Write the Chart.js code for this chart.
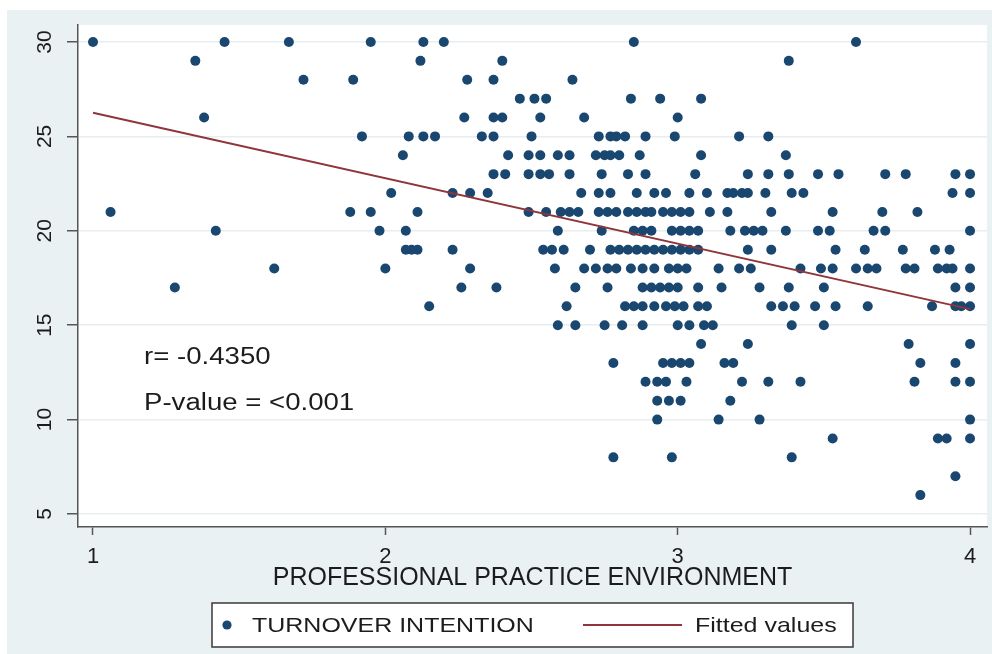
<!DOCTYPE html>
<html>
<head>
<meta charset="utf-8">
<script src="https://cdn.jsdelivr.net/npm/chart.js@4.4.0/dist/chart.umd.min.js"></script>
<style>
html,body{margin:0;padding:0;background:#fff;}
#wrap{position:relative;width:992px;height:654px;}
</style>
</head>
<body>
<div id="wrap"><canvas id="c" width="992" height="654"></canvas></div>
<script>
// Professional practice environment scores (x) at each turnover-intention level (y)
const x30 = [1.00, 1.45, 1.67, 1.95, 2.13, 2.20, 2.85, 3.61];
const x29 = [1.35, 2.12, 2.40, 3.38];
const x28 = [1.72, 1.89, 2.28, 2.37, 2.64];
const x27 = [2.46, 2.51, 2.55, 2.84, 2.94, 3.08];
const x26 = [1.38, 2.27, 2.37, 2.40, 2.53, 2.68, 3.00];
const x25 = [1.92, 2.08, 2.13, 2.17, 2.33, 2.37, 2.50, 2.73, 2.77, 2.79, 2.82, 2.89, 2.99, 3.21, 3.31];
const x24 = [2.06, 2.42, 2.49, 2.53, 2.59, 2.63, 2.72, 2.75, 2.77, 2.80, 2.87, 3.08, 3.37];
const x23 = [2.37, 2.41, 2.49, 2.53, 2.56, 2.63, 2.74, 2.83, 2.89, 3.06, 3.24, 3.31, 3.38, 3.48, 3.55, 3.71, 3.78, 3.95, 4.00];
const x22 = [2.02, 2.23, 2.29, 2.35, 2.67, 2.73, 2.77, 2.86, 2.92, 2.96, 3.04, 3.10, 3.17, 3.19, 3.22, 3.24, 3.30, 3.39, 3.43, 3.94, 4.00];
const x21 = [1.06, 1.88, 1.95, 2.11, 2.49, 2.55, 2.60, 2.63, 2.66, 2.73, 2.76, 2.79, 2.83, 2.86, 2.89, 2.91, 2.95, 2.98, 3.01, 3.04, 3.11, 3.17, 3.32, 3.53, 3.70, 3.82];
const x20 = [1.42, 1.98, 2.07, 2.59, 2.74, 2.85, 2.88, 2.91, 2.98, 3.01, 3.04, 3.07, 3.18, 3.23, 3.26, 3.29, 3.37, 3.48, 3.52, 3.67, 3.71, 4.00];
const x19 = [2.07, 2.09, 2.11, 2.23, 2.54, 2.57, 2.61, 2.70, 2.77, 2.80, 2.83, 2.86, 2.89, 2.92, 2.95, 2.98, 3.01, 3.04, 3.07, 3.24, 3.32, 3.54, 3.64, 3.77, 3.88, 3.93];
const x18 = [1.62, 2.00, 2.29, 2.58, 2.68, 2.72, 2.76, 2.79, 2.84, 2.88, 2.92, 2.97, 3.00, 3.03, 3.14, 3.21, 3.25, 3.42, 3.49, 3.53, 3.61, 3.65, 3.68, 3.78, 3.81, 3.89, 3.92, 3.94, 4.00];
const x17 = [1.28, 2.26, 2.38, 2.65, 2.76, 2.88, 2.91, 2.94, 2.97, 3.00, 3.07, 3.15, 3.28, 3.38, 3.50, 3.95, 4.00];
const x16 = [2.15, 2.62, 2.82, 2.85, 2.88, 2.92, 2.96, 2.99, 3.02, 3.07, 3.10, 3.32, 3.36, 3.40, 3.47, 3.54, 3.65, 3.87, 3.95, 3.97, 4.00];
const x15 = [2.59, 2.65, 2.75, 2.81, 2.88, 3.00, 3.04, 3.09, 3.12, 3.39, 3.50];
const x14 = [3.08, 3.24, 3.79, 4.00];
const x13 = [2.78, 2.95, 2.98, 3.01, 3.04, 3.16, 3.19, 3.83, 3.95];
const x12 = [2.89, 2.93, 2.96, 3.03, 3.22, 3.31, 3.42, 3.81, 3.95, 4.00];
const x11 = [2.93, 2.97, 3.01, 3.18];
const x10 = [2.93, 3.14, 3.28, 4.00];
const x9  = [3.53, 3.89, 3.92, 4.00];
const x8  = [2.78, 2.98, 3.39];
const x7  = [3.95];
const x6  = [3.83];

const turnoverLevels = [30,29,28,27,26,25,24,23,22,21,20,19,18,17,16,15,14,13,12,11,10,9,8,7,6];
const envRows = [x30,x29,x28,x27,x26,x25,x24,x23,x22,x21,x20,x19,x18,x17,x16,x15,x14,x13,x12,x11,x10,x9,x8,x7,x6];

const fittedX = [1, 4];
const fittedY = [26.25, 15.85];

const xTicks = [1, 2, 3, 4];
const yTicks = [5, 10, 15, 20, 25, 30];

const xTitle = 'PROFESSIONAL PRACTICE ENVIRONMENT';
const seriesNames = ['TURNOVER INTENTION', 'Fitted values'];
const statLines = ['r= -0.4350', 'P-value = <0.001'];

const NAVY = '#1a476f';
const MAROON = '#90353b';
const BG = '#eaf1f3';
const AXIS = '#555555';
const TEXT = '#1c1c1c';
const FONT = '"Liberation Sans", Arial, sans-serif';

const scatterPts = [];
turnoverLevels.forEach((lv, i) => envRows[i].forEach(xv => scatterPts.push({x: xv, y: lv})));
const fittedPts = fittedX.map((xv, i) => ({x: xv, y: fittedY[i]}));

function stretchedText(ctx, text, x, y, size, sx) {
  ctx.save();
  ctx.font = size + 'px ' + FONT;
  ctx.fillStyle = TEXT;
  ctx.textBaseline = 'middle';
  ctx.textAlign = 'left';
  ctx.translate(x, y);
  ctx.scale(sx, 1);
  ctx.fillText(text, 0, 0);
  ctx.restore();
}

const decor = {
  id: 'decor',
  beforeDraw(chart) {
    const ctx = chart.ctx, a = chart.chartArea;
    ctx.save();
    ctx.fillStyle = '#ffffff';
    ctx.fillRect(0, 0, chart.width, chart.height);
    ctx.fillStyle = BG;
    ctx.fillRect(7, 10, chart.width - 7, chart.height - 10);
    ctx.fillStyle = '#ffffff';
    ctx.fillRect(a.left, a.top, a.right - a.left, a.bottom - a.top);
    ctx.restore();
  },
  afterDraw(chart) {
    const ctx = chart.ctx;
    const ys = chart.scales.y;
    // rotated y tick labels
    ctx.save();
    ctx.font = '21px ' + FONT;
    ctx.fillStyle = TEXT;
    ctx.textAlign = 'center';
    ctx.textBaseline = 'middle';
    ys.ticks.forEach(t => {
      const py = ys.getPixelForValue(t.value);
      ctx.save();
      ctx.translate(45, py);
      ctx.rotate(-Math.PI / 2);
      ctx.fillText(String(t.value), 0, 0);
      ctx.restore();
    });
    ctx.restore();

    // statistics text
    stretchedText(ctx, statLines[0], 144, 358, 23, 1.2);
    stretchedText(ctx, statLines[1], 144, 404, 23, 1.2);

    // legend box
    ctx.save();
    ctx.fillStyle = '#ffffff';
    ctx.fillRect(212, 603, 641, 44);
    ctx.strokeStyle = '#3a3a3a';
    ctx.lineWidth = 1.5;
    ctx.strokeRect(212, 603, 641, 44);
    ctx.fillStyle = NAVY;
    ctx.beginPath();
    ctx.arc(227, 625, 4.6, 0, Math.PI * 2);
    ctx.fill();
    ctx.strokeStyle = MAROON;
    ctx.lineWidth = 1.8;
    ctx.beginPath();
    ctx.moveTo(583, 625);
    ctx.lineTo(682, 625);
    ctx.stroke();
    ctx.restore();
    stretchedText(ctx, seriesNames[0], 252, 626, 21, 1.19);
    stretchedText(ctx, seriesNames[1], 695, 626, 21, 1.19);
  }
};

new Chart(document.getElementById('c'), {
  type: 'scatter',
  data: {
    datasets: [
      {
        type: 'line',
        label: seriesNames[1],
        data: fittedPts,
        borderColor: MAROON,
        borderWidth: 2,
        pointRadius: 0,
        fill: false,
        tension: 0
      },
      {
        label: seriesNames[0],
        data: scatterPts,
        backgroundColor: NAVY,
        borderColor: NAVY,
        borderWidth: 0,
        pointRadius: 5,
        pointHoverRadius: 5
      }
    ]
  },
  options: {
    responsive: false,
    animation: false,
    devicePixelRatio: 1,
    layout: { padding: { top: 25, right: 5, left: 0, bottom: 60.6 } },
    plugins: { legend: { display: false }, tooltip: { enabled: false } },
    scales: {
      x: {
        type: 'linear',
        min: 0.9487,
        max: 4.058,
        afterBuildTicks: s => { s.ticks = xTicks.map(v => ({ value: v })); },
        afterFit: s => { s.height = 66.4; },
        ticks: { font: { size: 22, family: FONT }, color: TEXT, padding: 9, maxRotation: 0, callback: v => String(v) },
        grid: { drawOnChartArea: false, drawTicks: true, tickLength: 8, tickColor: AXIS, tickWidth: 1.5 },
        border: { display: true, color: AXIS, width: 1.5 },
        title: { display: true, text: xTitle, color: TEXT, font: { size: 25, family: FONT }, padding: { top: 0, bottom: 0 } }
      },
      y: {
        type: 'linear',
        min: 4.311,
        max: 30.9,
        afterBuildTicks: s => { s.ticks = yTicks.map(v => ({ value: v })); },
        afterFit: s => { s.width = 78; },
        ticks: { display: false },
        grid: { color: '#e8eef0', lineWidth: 1.5, drawTicks: true, tickLength: 11, tickColor: AXIS, tickWidth: 1.5 },
        border: { display: true, color: AXIS, width: 1.5 }
      }
    }
  },
  plugins: [decor]
});
</script>
</body>
</html>
